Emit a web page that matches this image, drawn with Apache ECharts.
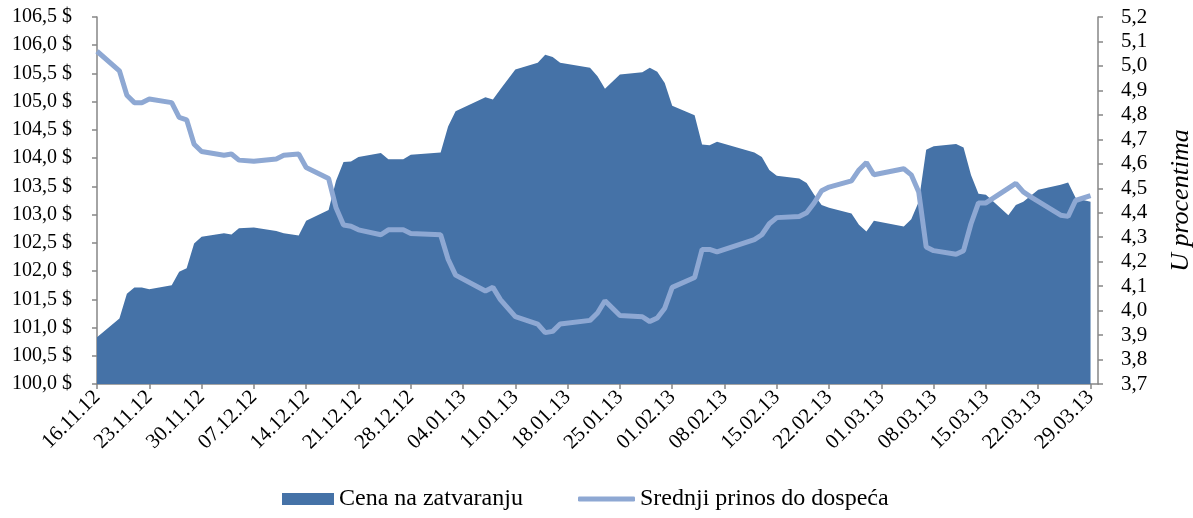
<!DOCTYPE html>
<html>
<head>
<meta charset="utf-8">
<title>Cena i prinos</title>
<script src="https://cdn.jsdelivr.net/npm/echarts@6/dist/echarts.min.js"></script>
<style>
  body { margin: 0; background: #fff; }
  #chart { width: 1193px; height: 518px; }
</style>
</head>
<body>
<div id="chart"></div>
<script>
// trgovacki dani (ocitano sa slike)
const dates = ['16.11.12','19.11.12','20.11.12','21.11.12','22.11.12','23.11.12','26.11.12','27.11.12','28.11.12','29.11.12','30.11.12',
  '03.12.12','04.12.12','05.12.12','07.12.12','10.12.12','11.12.12','13.12.12','14.12.12','17.12.12','18.12.12','19.12.12','20.12.12',
  '21.12.12','24.12.12','25.12.12','27.12.12','28.12.12','01.01.13','02.01.13','03.01.13','07.01.13','08.01.13','09.01.13','10.01.13',
  '11.01.13','14.01.13','15.01.13','16.01.13','17.01.13','21.01.13','22.01.13','23.01.13','25.01.13','28.01.13','29.01.13','30.01.13',
  '31.01.13','01.02.13','04.02.13','05.02.13','06.02.13','07.02.13','12.02.13','13.02.13','14.02.13','15.02.13','18.02.13','19.02.13',
  '20.02.13','21.02.13','22.02.13','25.02.13','26.02.13','27.02.13','28.02.13','04.03.13','05.03.13','06.03.13','07.03.13','08.03.13',
  '11.03.13','12.03.13','13.03.13','14.03.13','15.03.13','18.03.13','19.03.13','20.03.13','21.03.13','22.03.13','25.03.13','26.03.13',
  '27.03.13','28.03.13','29.03.13'];

// Cena na zatvaranju ($)
const price = [100.83,101.16,101.60,101.71,101.71,101.68,101.75,101.99,102.05,102.49,102.61,
  102.67,102.65,102.76,102.77,102.71,102.67,102.63,102.89,103.08,103.60,103.93,103.94,
  104.02,104.09,103.98,103.98,104.06,104.10,104.56,104.83,105.08,105.04,105.22,null,
  105.57,105.69,105.83,105.79,105.69,105.60,105.45,105.23,105.48,105.52,105.60,105.53,
  105.33,104.93,104.76,104.24,104.23,104.29,104.10,104.02,103.79,103.69,103.64,103.56,
  103.35,103.17,103.12,103.02,102.82,102.70,102.89,102.79,102.92,103.23,104.15,104.21,
  104.25,104.19,103.70,103.37,103.35,102.99,103.17,103.23,null,103.44,103.53,103.57,
  103.30,103.26,103.23];

// Srednji prinos do dospeca (%)
const yieldPct = [5.06,4.98,4.88,4.85,4.85,4.865,4.85,4.79,4.78,4.68,4.65,
  4.635,4.64,4.615,4.61,4.62,4.635,4.64,4.585,4.54,4.42,4.35,4.345,
  4.33,4.31,4.33,4.33,4.315,4.31,4.21,4.145,4.08,4.095,4.045,4.01,
  3.975,3.945,3.91,3.915,3.945,3.96,3.99,4.04,3.98,3.975,3.955,3.97,
  4.01,4.095,4.135,4.25,4.25,4.24,4.29,4.31,4.355,4.38,4.385,4.40,
  4.44,4.49,4.505,4.53,4.575,4.605,4.555,4.58,4.555,4.485,4.26,4.245,
  4.23,4.245,4.355,4.44,4.44,null,4.52,4.485,4.465,null,4.39,4.385,
  4.45,null,4.47];

const startDate = [2012, 10, 16];
const dayCount = 135; // 16.11.12 .. 30.03.13

function fmt(d) {
  const dd = String(d.getDate()).padStart(2, '0');
  const mm = String(d.getMonth() + 1).padStart(2, '0');
  const yy = String(d.getFullYear()).slice(2);
  return dd + '.' + mm + '.' + yy;
}

// svi kalendarski dani na osi
const calendar = [];
for (let i = 0; i < dayCount; i++) {
  calendar.push(fmt(new Date(startDate[0], startDate[1], startDate[2] + i)));
}

function onCalendar(values) {
  return calendar.map(c => {
    const k = dates.indexOf(c);
    return k < 0 ? null : values[k];
  });
}

const font = 'Liberation Serif';
const axisColor = '#868686';
const areaColor = '#4572A7';
const lineColor = '#8EA8D3';
const weekly = (index) => index % 7 === 0 && index < 134;

let myChart = echarts.init(document.getElementById('chart'));
myChart.setOption({
  animation: false,
  grid: {
    left: 97,
    right: 95,
    top: 17,
    bottom: 134,
    outerBoundsMode: 'none'
  },
  // dve legende, da svaka ima svoju ikonu
  legend: [
    {
      top: 482,
      left: 277,
      itemWidth: 52,
      itemHeight: 12,
      textStyle: { fontFamily: font, fontSize: 24, color: '#000' },
      data: [{ name: 'Cena na zatvaranju', icon: 'rect' }]
    },
    {
      top: 482,
      left: 573,
      itemWidth: 57,
      itemHeight: 5,
      textStyle: { fontFamily: font, fontSize: 24, color: '#000' },
      data: [{ name: 'Srednji prinos do dospeća', icon: 'roundRect' }]
    }
  ],
  xAxis: {
    type: 'category',
    boundaryGap: false,
    data: calendar,
    axisLine: { lineStyle: { color: axisColor, width: 1.5 } },
    axisTick: { interval: weekly, length: 5, lineStyle: { color: axisColor, width: 1.5 } },
    axisLabel: {
      interval: weekly,
      rotate: 45,
      margin: 10,
      fontFamily: font,
      fontSize: 21,
      color: '#000'
    }
  },
  yAxis: [
    {
      type: 'value',
      min: 100,
      max: 106.5,
      interval: 0.5,
      splitLine: { show: false },
      axisLine: { show: true, lineStyle: { color: axisColor, width: 1.5 } },
      axisTick: { show: true, length: 5, lineStyle: { color: axisColor, width: 1.5 } },
      axisLabel: {
        margin: 25,
        fontFamily: font,
        fontSize: 20,
        color: '#000',
        formatter: v => v.toFixed(1).replace('.', ',') + ' $'
      }
    },
    {
      type: 'value',
      position: 'right',
      min: 3.7,
      max: 5.2,
      interval: 0.1,
      splitLine: { show: false },
      axisLine: { show: true, lineStyle: { color: axisColor, width: 1.5 } },
      axisTick: { show: true, length: 5, lineStyle: { color: axisColor, width: 1.5 } },
      axisLabel: {
        margin: 23,
        fontFamily: font,
        fontSize: 21,
        color: '#000',
        formatter: v => v.toFixed(1).replace('.', ',')
      },
      name: 'U procentima',
      nameLocation: 'middle',
      nameRotate: 90,
      nameGap: 70,
      nameTextStyle: { fontFamily: font, fontSize: 26, fontStyle: 'italic', color: '#000' }
    }
  ],
  series: [
    {
      name: 'Cena na zatvaranju',
      type: 'line',
      yAxisIndex: 0,
      data: onCalendar(price),
      connectNulls: true,
      symbol: 'none',
      color: areaColor,
      lineStyle: { width: 0 },
      areaStyle: { color: areaColor, opacity: 1 }
    },
    {
      name: 'Srednji prinos do dospeća',
      type: 'line',
      yAxisIndex: 1,
      data: onCalendar(yieldPct),
      connectNulls: true,
      symbol: 'none',
      color: lineColor,
      lineStyle: { color: lineColor, width: 5 }
    }
  ]
});
</script>
</body>
</html>
